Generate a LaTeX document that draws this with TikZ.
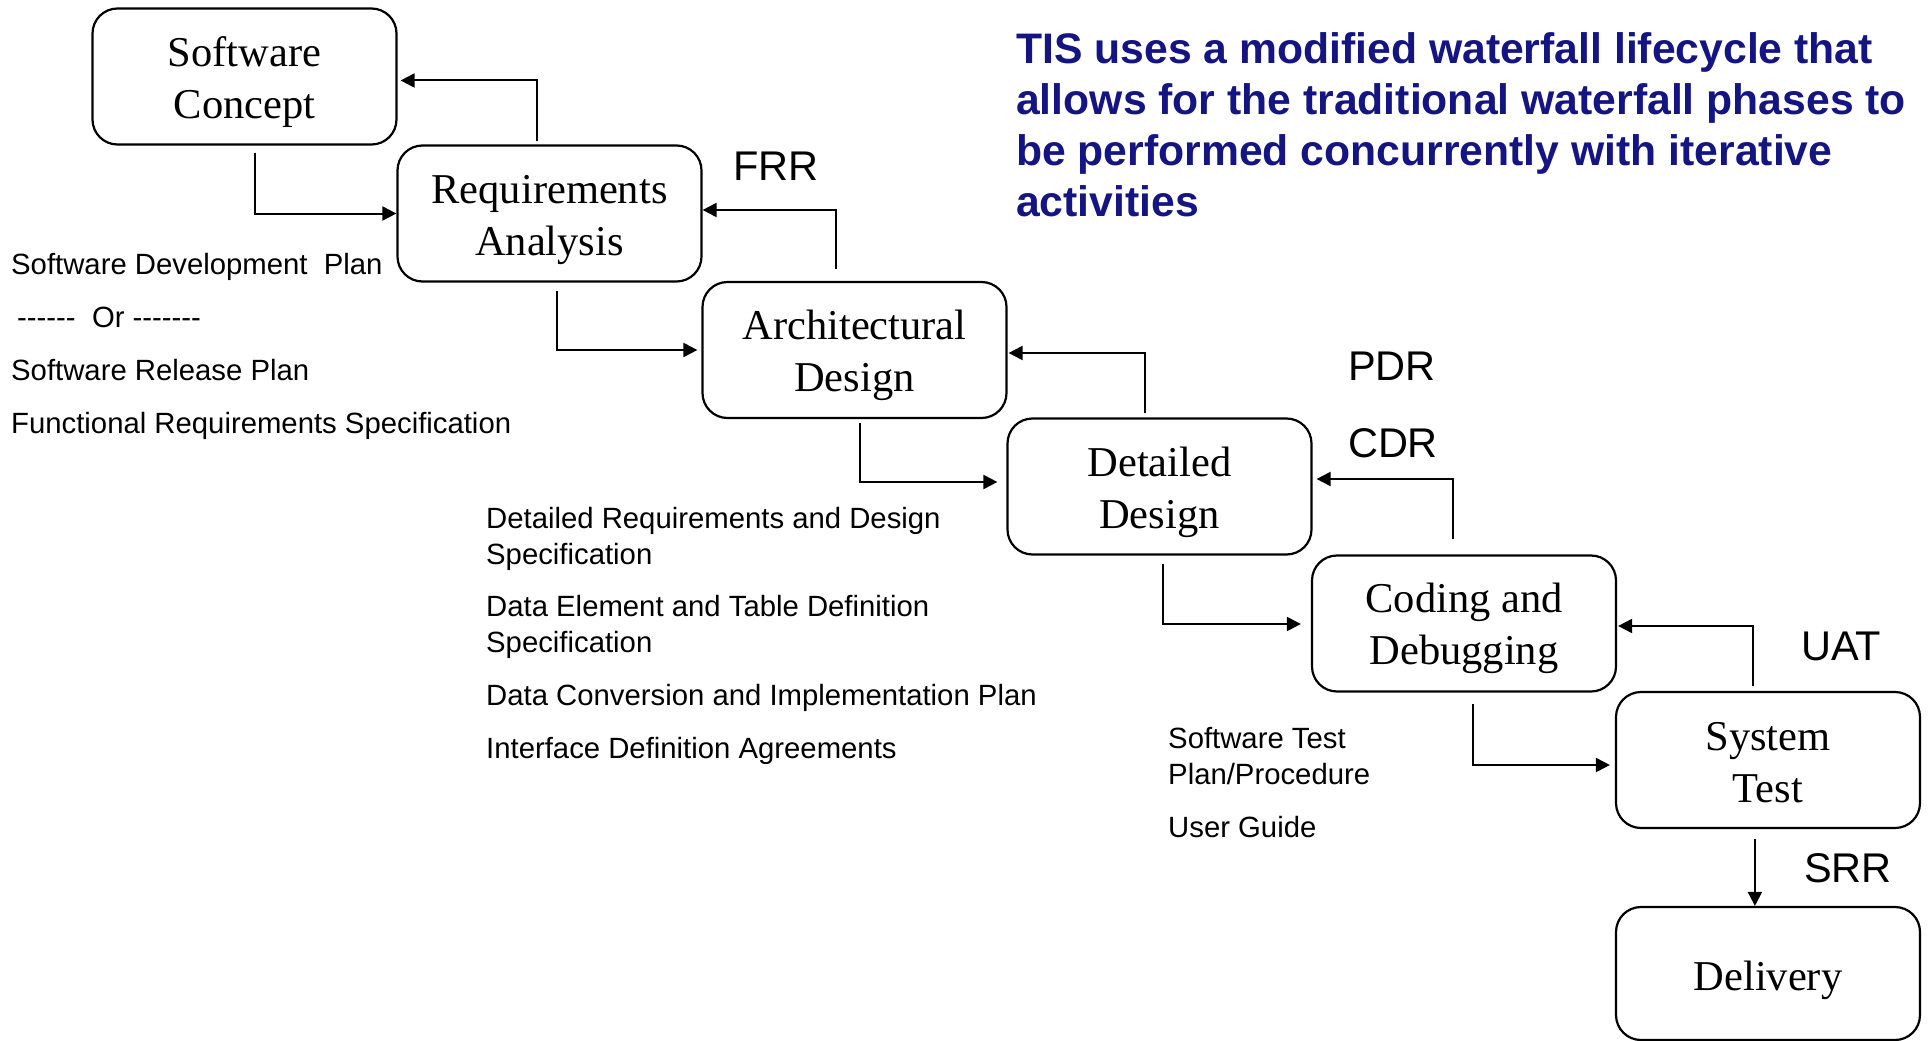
\documentclass[tikz,border=0pt]{standalone}
\usepackage{fontspec}
\setmainfont{Liberation Serif}
\newfontfamily\arialfont{Liberation Sans}
\usetikzlibrary{arrows.meta,calc}
\definecolor{titleblue}{RGB}{20,20,130}
% taller first line, so each phase label sits a little below the box centre
\newcommand\phstrut[1][41pt]{\rule{0pt}{#1}}
\begin{document}
\begin{tikzpicture}[x=1pt,y=-1pt,
  phase/.style={draw, line width=2.2pt, rounded corners=25pt,
    minimum width=304pt, minimum height=136pt, inner sep=0pt,
    align=center, font=\fontsize{42.5}{52}\selectfont},
  flow/.style={line width=2pt, -{Triangle[length=14pt,width=14pt]}},
  review/.style={font=\arialfont\fontsize{41.5}{50}\selectfont, inner sep=0pt},
  doc/.style={font=\arialfont\fontsize{29.3}{36}\selectfont, inner sep=0pt, anchor=base west},
  headline/.style={font=\arialfont\bfseries\fontsize{42.7}{51}\selectfont,
    text=titleblue, inner sep=0pt, anchor=base west}]
\useasboundingbox (0,0) rectangle (1931,1041);

% lifecycle phases
\node[phase] (concept) at (244.5,76.5) {\phstrut Software\\Concept};
\node[phase] (req)     at (549.5,213.5) {\phstrut Requirements\\Analysis};
\node[phase] (arch)    at (854.5,350)   {\phstrut Architectural\\Design};
\node[phase] (detail)  at (1159.5,486.5) {\phstrut[42pt]Detailed\\Design};
\node[phase] (code)    at (1464,623.5)  {\phstrut[40pt]Coding and\\Debugging};
\node[phase] (systest) at (1768,760)    {\phstrut[33pt]System\\Test};
\node[phase, minimum height=133pt] (deliver) at (1768,973.5) {\phstrut[43pt]Delivery};

% forward flow down the cascade
\draw[flow] ($(concept.south west)+(164,7)$) |- (req.west);
\draw[flow] ($(req.south west)+(161,8)$) |- ($(arch.west)+(-4,0)$);
\draw[flow] ($(arch.south west)+(159,4)$) |- ($(detail.west)+(-9,-4.5)$);
\draw[flow] ($(detail.south west)+(157,8)$) |- ($(code.west)+(-10,0.5)$);
\draw[flow] ($(code.south west)+(162,11)$) |- ($(systest.west)+(-5,5)$);
\draw[flow] ($(systest.south west)+(140,10)$) -- ($(deliver.north west)+(140,0)$);

% iteration back to the previous phase
\draw[flow] ($(req.north west)+(141,-3)$) |- ($(concept.east)+(3,4)$);
\draw[flow] ($(arch.north west)+(135,-12)$) |- ($(req.east)+(0,-3.5)$);
\draw[flow] ($(detail.north west)+(139,-4)$) |- ($(arch.east)+(1,3)$);
\draw[flow] ($(code.north west)+(142,-15)$) |- ($(detail.east)+(4,-7.5)$);
\draw[flow] ($(systest.north west)+(138,-5)$) |- ($(code.east)+(1,2.5)$);

% reviews
\node[review] (frr) at (776,166.5) {FRR};
\node[review] (pdr) at (1392,366) {PDR};
\node[review] (cdr) at (1393,443) {CDR};
\node[review] (uat) at (1841,646) {UAT};
\node[review] (srr) at (1848,868) {SRR};

% deliverables
\node[doc] (sdp)  at (11,274) {Software Development\ \ Plan};
\node[doc] (or)   at (17,327) {-{}-{}-{}-{}-{}-\ \ Or -{}-{}-{}-{}-{}-{}-};
\node[doc] (srp)  at (11,380) {Software Release Plan};
\node[doc] (frs)  at (11,433) {Functional Requirements Specification};

\node[doc] (drds1) at (486,528) {Detailed Requirements and Design};
\node[doc] (drds2) at (486,564) {Specification};
\node[doc] (detd1) at (486,616) {Data Element and Table Definition};
\node[doc] (detd2) at (486,652) {Specification};
\node[doc] (dcip)  at (486,705) {Data Conversion and Implementation Plan};
\node[doc] (ida)   at (486,758) {Interface Definition Agreements};

\node[doc] (stp1) at (1168,748) {Software Test};
\node[doc] (stp2) at (1168,784) {Plan/Procedure};
\node[doc] (ug)   at (1168,837) {User Guide};

% headline
\node[headline] (h1) at (1016,63.5)  {TIS uses a modified waterfall lifecycle that};
\node[headline] (h2) at (1016,114.5) {allows for the traditional waterfall phases to};
\node[headline] (h3) at (1016,165.5) {be performed concurrently with iterative};
\node[headline] (h4) at (1016,216.5) {activities};
\end{tikzpicture}
\end{document}
